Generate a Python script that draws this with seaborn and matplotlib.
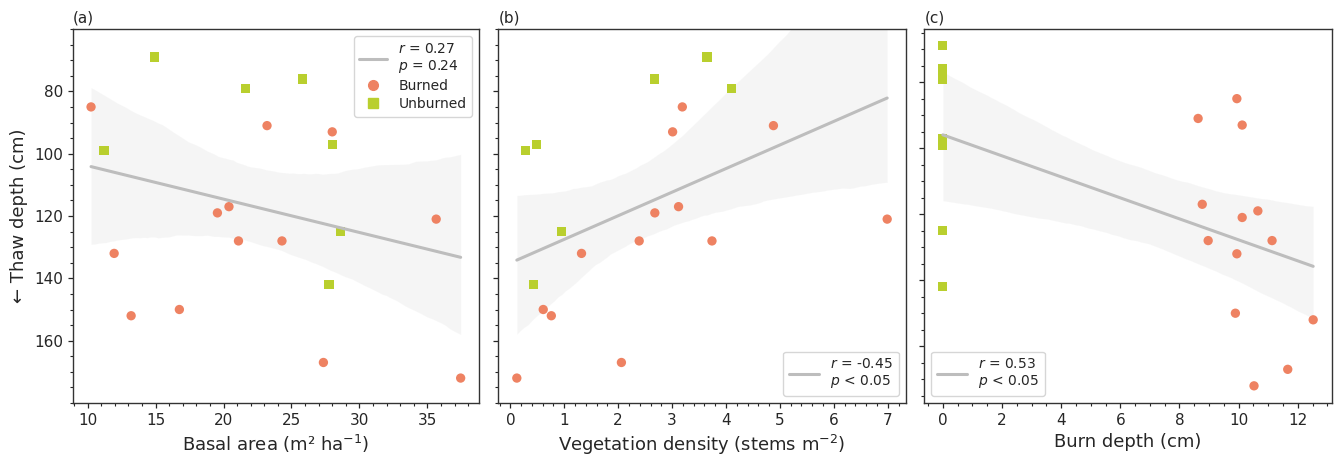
import numpy as np
import pandas as pd
import matplotlib
matplotlib.use("Agg")
import matplotlib.pyplot as plt
from matplotlib.ticker import AutoMinorLocator
from matplotlib.lines import Line2D
import seaborn as sns

sns.set_style("ticks")
plt.rcParams['font.family'] = ['DejaVu Sans']

# site data (burned sites first, then unburned)
site_type = ["Burned"] * 13 + ["Unburned"] * 7
thaw_depth = [85, 91, 93, 117, 119, 121, 128, 128, 132, 150, 152, 167, 172,
              69, 76, 79, 97, 99, 125, 142]
basal_area = [10.25, 23.2, 28.0, 20.4, 19.55, 35.65, 21.1, 24.3, 11.95, 16.75, 13.2, 27.35, 37.45,
              14.9, 25.8, 21.6, 28.0, 11.2, 28.6, 27.75]
veg_density = [3.19, 4.88, 3.01, 3.12, 2.68, 6.99, 2.39, 3.74, 1.32, 0.61, 0.76, 2.06, 0.12,
               3.65, 2.68, 4.10, 0.49, 0.28, 0.95, 0.43]
burn_depth = [9.94, 8.63, 10.12, 8.77, 10.65, 10.12, 8.97, 11.13, 9.94, 9.89, 12.52, 11.66, 10.52,
              0, 0, 0, 0, 0, 0, 0]

stats_text = ["$r$ = 0.27\n$p$ = 0.24", "$r$ = -0.45\n$p$ < 0.05", "$r$ = 0.53\n$p$ < 0.05"]
panel_names = ["(a)", "(b)", "(c)"]
x_labels = ["Basal area (m² ha$^{-1}$)", "Vegetation density (stems m$^{-2}$)", "Burn depth (cm)"]

df = pd.DataFrame({"type": site_type, "thaw": thaw_depth, "basal": basal_area,
                   "density": veg_density, "burn": burn_depth})

colors = {"Burned": "#EE8262", "Unburned": "#B9CF2E"}
markers = {"Burned": "o", "Unburned": "s"}
line_color = "#BDBDBD"

fig = plt.figure(figsize=(13.38, 4.59), dpi=100)
W, H = 1338, 459
boxes = [(72.7, 479.0), (498.3, 905.7), (924.3, 1331.7)]
top_px, bot_px = 29, 403
axes = [fig.add_axes([l / W, 1 - bot_px / H, (r - l) / W, (bot_px - top_px) / H]) for l, r in boxes]

xcols = ["basal", "density", "burn"]
legend_locs = ["upper right", "lower right", "lower left"]
for i, ax in enumerate(axes):
    sns.regplot(data=df, x=xcols[i], y="thaw", ax=ax, scatter=False, color=line_color,
                ci=95, seed=3, line_kws={"lw": 2.2}, label=stats_text[i])
    sns.scatterplot(data=df, x=xcols[i], y="thaw", hue="type", style="type",
                    palette=colors, markers=markers, s=45, linewidth=0, ax=ax, legend=False)
    ax.set_xlabel(x_labels[i], fontsize=13)
    ax.set_ylabel("")
    ax.set_title(panel_names[i], loc="left", fontsize=11, pad=5)
    ax.set_yticks([80, 100, 120, 140, 160])
    ax.xaxis.set_minor_locator(AutoMinorLocator())
    ax.yaxis.set_minor_locator(AutoMinorLocator())
    ax.tick_params(which="major", direction="out", length=3.5, width=0.9, labelsize=11)
    ax.tick_params(which="minor", direction="out", length=2, width=0.8)
    for sp in ax.spines.values():
        sp.set_linewidth(1.0)
        sp.set_color("#333333")
    if i > 0:
        ax.tick_params(axis="y", labelleft=False)

axes[0].set_ylim(180, 60)
axes[1].set_ylim(180, 60)
axes[2].set_ylim(177.2, 63.9)
axes[0].set_xlim(8.9, 38.8)
axes[0].set_ylabel("← Thaw depth (cm)", fontsize=13)

line_h = Line2D([], [], color=line_color, lw=2.2)
burn_h = Line2D([], [], color=colors["Burned"], marker="o", ls="", markersize=7)
unb_h = Line2D([], [], color=colors["Unburned"], marker="s", ls="", markersize=7)
axes[0].legend([line_h, burn_h, unb_h], [stats_text[0], "Burned", "Unburned"],
               loc="upper right", fontsize=10, labelspacing=0.3, handlelength=2)
axes[1].legend([line_h], [stats_text[1]], loc="lower right", fontsize=10, handlelength=2.2)
axes[2].legend([line_h], [stats_text[2]], loc="lower left", fontsize=10, handlelength=2.2)

fig.savefig("out.png", dpi=100)
